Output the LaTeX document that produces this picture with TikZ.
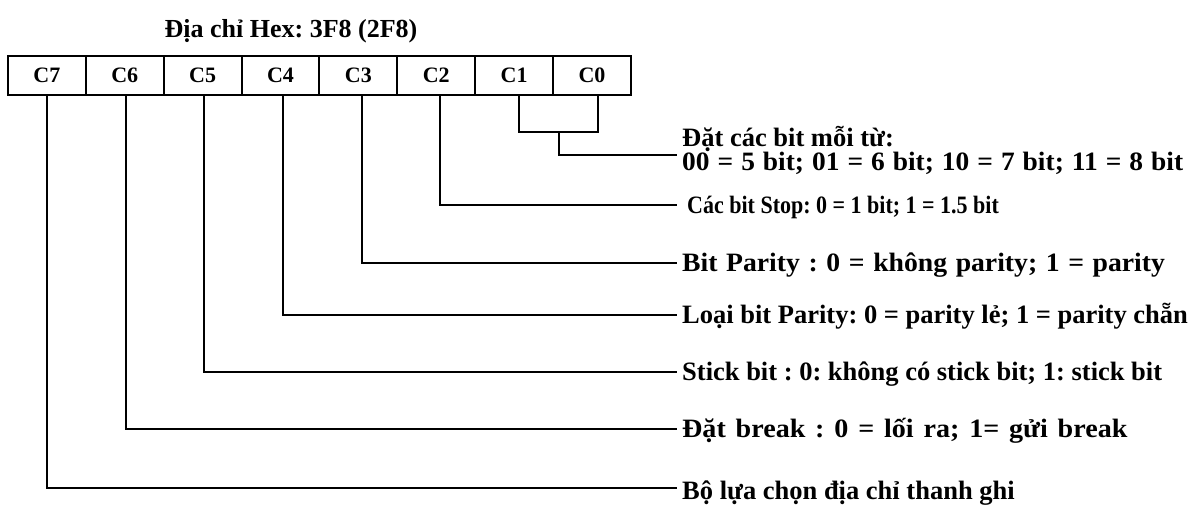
\documentclass[tikz,border=0pt]{standalone}
\usepackage{fontspec}
\usepackage{graphicx}
\setmainfont{Liberation Serif}
\usetikzlibrary{positioning}
\frenchspacing
\hbadness=10000

\newcommand{\hsq}[2]{\scalebox{#1}[1]{#2}}
\newcommand{\spread}[2]{\makebox[#1][s]{#2}}

\tikzset{
  cell/.style={draw, line width=2pt, outer sep=0pt, inner sep=0pt,
    minimum width=77.9pt, minimum height=39pt,
    font=\fontsize{22}{22}\selectfont\bfseries},
  desc/.style={anchor=west, inner xsep=5pt, inner ysep=0pt,
    text height=17pt, text depth=0pt,
    font=\fontsize{26.5}{28}\selectfont\bfseries},
  hdr/.style={font=\fontsize{26}{28}\selectfont\bfseries},
  wire/.style={line width=2pt},
}

\begin{document}
\begin{tikzpicture}[x=1pt, y=-1pt]

    \useasboundingbox (0,0) rectangle (1192,504);

    % --- Tiêu đề ---
    \node[hdr] (title) at (291,31) {Địa chỉ Hex: 3F8 (2F8)};

    % --- Các ô bit C7 ... C0 ---
    \foreach \n [count=\i from 0] in {7,6,5,4,3,2,1,0}
        \node[cell] (c\n) at (46.9+77.875*\i, 75.5) {C\n};

    % --- Chú thích ---
    \node[desc] (l10) at (677,162) {\hsq{1.035}{\spread{484pt}{00 = 5 bit; 01 = 6 bit; 10 = 7 bit; 11 = 8 bit}}};
    \node[desc] (l10h) at ([yshift=24pt]l10.west) {Đặt các bit mỗi từ:};
    \node[desc, font=\fontsize{25}{26}\selectfont\bfseries] (l2) at (677,205)
        {\hspace{5pt}\hsq{0.88}{Các bit Stop: 0 = 1 bit; 1 = 1.5 bit}};
    \node[desc] (l3) at (677,263) {\hsq{1.045}{\spread{462pt}{Bit Parity : 0 = không parity; 1 = parity}}};
    \node[desc] (l4) at (677,315) {Loại bit Parity: 0 = parity lẻ; 1 = parity chẵn};
    \node[desc] (l5) at (677,372) {Stick bit : 0: không có stick bit; 1: stick bit};
    \node[desc] (l6) at (677,429) {\hsq{1.06}{\spread{420pt}{Đặt break : 0 = lối ra; 1= gửi break}}};
    \node[desc] (l7) at (677,491) {Bộ lựa chọn địa chỉ thanh ghi};

    % --- C1, C0: nhóm chung ---
    \draw[wire] ([xshift=5pt]c1.south) -- ++(0,37) -| ([xshift=6pt]c0.south);
    \coordinate (join) at (559,132);
    \draw[wire] (join) |- ([yshift=7pt]l10.west);

    % --- Đường nối từng bit ---
    \draw[wire] ([xshift=4.2pt]c2.south) |- (l2.west);
    \draw[wire] ([xshift=3.4pt]c3.south) |- (l3.west);
    \draw[wire] ([xshift=2.5pt]c4.south) |- (l4.west);
    \draw[wire] ([xshift=1.7pt]c5.south) |- (l5.west);
    \draw[wire] ([xshift=0.8pt]c6.south) |- (l6.west);
    \draw[wire] (c7.south) |- ([yshift=3pt]l7.west);

\end{tikzpicture}
\end{document}
